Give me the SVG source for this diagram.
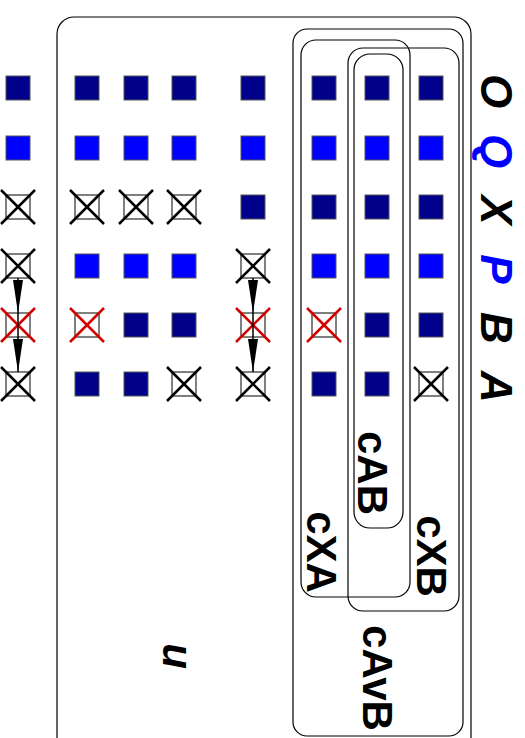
<svg xmlns="http://www.w3.org/2000/svg" width="525" height="738" viewBox="0 0 525 738">
<style>
.d{fill:#00008b;stroke:#555;stroke-width:1}
.l{fill:#0000ff;stroke:#555;stroke-width:1}
.e{fill:#fff;stroke:#555;stroke-width:1.5}
.k{stroke:#000;stroke-width:2.5}
.r{stroke:#d40000;stroke-width:2.5}
.box{fill:none;stroke:#000;stroke-width:1.2}
.lab{font-family:"Liberation Sans",Arial,sans-serif;font-weight:bold;font-size:42px}
.big{font-size:44px}
.it{font-style:italic}
</style>
<defs>
<symbol id="kx" overflow="visible"><rect class="e" x="-12" y="-12" width="24" height="24"/><line class="k" x1="-17" y1="-17" x2="17" y2="17"/><line class="k" x1="17" y1="-17" x2="-17" y2="17"/></symbol>
<symbol id="rx" overflow="visible"><rect class="e" x="-12" y="-12" width="24" height="24"/><line class="r" x1="-17" y1="-17" x2="17" y2="17"/><line class="r" x1="17" y1="-17" x2="-17" y2="17"/></symbol>
<symbol id="ds" overflow="visible"><rect class="d" x="-12" y="-12" width="24" height="24"/></symbol>
<symbol id="ls" overflow="visible"><rect class="l" x="-12" y="-12" width="24" height="24"/></symbol>
</defs>
<rect width="525" height="738" fill="#fff"/>
<g id="boxes">
<rect id="outer" class="box" x="57" y="17" width="414" height="760" rx="17"/>
<rect id="cAvB" class="box" x="293" y="29" width="170" height="707" rx="14"/>
<rect id="cXA" class="box" x="301" y="40" width="109" height="557" rx="15"/>
<rect id="cXB" class="box" x="348" y="48" width="111" height="563" rx="15"/>
<rect id="cAB" class="box" x="354" y="54" width="49" height="474" rx="16"/>
</g>
<g id="col0">
<use href="#ds" x="18" y="88"/><use href="#ls" x="18" y="148"/><use href="#kx" x="18" y="207"/><use href="#kx" x="18" y="266"/><use href="#rx" x="18" y="325"/><use href="#kx" x="18" y="384"/>
</g>
<g id="col1">
<use href="#ds" x="87" y="88"/><use href="#ls" x="87" y="148"/><use href="#kx" x="87" y="207"/><use href="#ls" x="87" y="266"/><use href="#rx" x="87" y="325"/><use href="#ds" x="87" y="384"/>
</g>
<g id="col2">
<use href="#ds" x="136" y="88"/><use href="#ls" x="136" y="148"/><use href="#kx" x="136" y="207"/><use href="#ls" x="136" y="266"/><use href="#ds" x="136" y="325"/><use href="#ds" x="136" y="384"/>
</g>
<g id="col3">
<use href="#ds" x="184" y="88"/><use href="#ls" x="184" y="148"/><use href="#kx" x="184" y="207"/><use href="#ls" x="184" y="266"/><use href="#ds" x="184" y="325"/><use href="#kx" x="184" y="384"/>
</g>
<g id="col4">
<use href="#ds" x="253" y="88"/><use href="#ls" x="253" y="148"/><use href="#ds" x="253" y="207"/><use href="#kx" x="253" y="266"/><use href="#rx" x="253" y="325"/><use href="#kx" x="253" y="384"/>
</g>
<g id="col5">
<use href="#ds" x="324" y="88"/><use href="#ls" x="324" y="148"/><use href="#ds" x="324" y="207"/><use href="#ls" x="324" y="266"/><use href="#rx" x="324" y="325"/><use href="#ds" x="324" y="384"/>
</g>
<g id="col6">
<use href="#ds" x="377" y="88"/><use href="#ls" x="377" y="148"/><use href="#ds" x="377" y="207"/><use href="#ls" x="377" y="266"/><use href="#ds" x="377" y="325"/><use href="#ds" x="377" y="384"/>
</g>
<g id="col7">
<use href="#ds" x="431" y="88"/><use href="#ls" x="431" y="148"/><use href="#ds" x="431" y="207"/><use href="#ls" x="431" y="266"/><use href="#ds" x="431" y="325"/><use href="#kx" x="431" y="384"/>
</g>
<g id="connectors" stroke="#000" stroke-width="1.5" fill="#000">
<line x1="18" y1="278" x2="18" y2="372"/>
<path d="M13 280 L23 280 L18 313 Z" stroke="none"/>
<path d="M13 339 L23 339 L18 372 Z" stroke="none"/>
<line x1="253" y1="278" x2="253" y2="372"/>
<path d="M248 280 L258 280 L253 313 Z" stroke="none"/>
<path d="M248 339 L258 339 L253 372 Z" stroke="none"/>
</g>
<g id="rowlabels" class="lab big it" text-anchor="middle">
<text transform="translate(481,91) rotate(90)">O</text>
<text transform="translate(481,151) rotate(90)" fill="#0000ff">Q</text>
<text transform="translate(481,210) rotate(90)">X</text>
<text transform="translate(481,269) rotate(90)" fill="#0000ff">P</text>
<text transform="translate(481,328) rotate(90)">B</text>
<text transform="translate(481,387) rotate(90)">A</text>
</g>
<g id="boxlabels" class="lab" text-anchor="middle">
<text transform="translate(358,473) rotate(90)">cAB</text>
<text transform="translate(417,556) rotate(90)">cXB</text>
<text transform="translate(307,552) rotate(90)">cXA</text>
<text transform="translate(363,678) rotate(90)">cAvB</text>
<text class="it" transform="translate(163,656) rotate(90)">u</text>
</g>
</svg>
